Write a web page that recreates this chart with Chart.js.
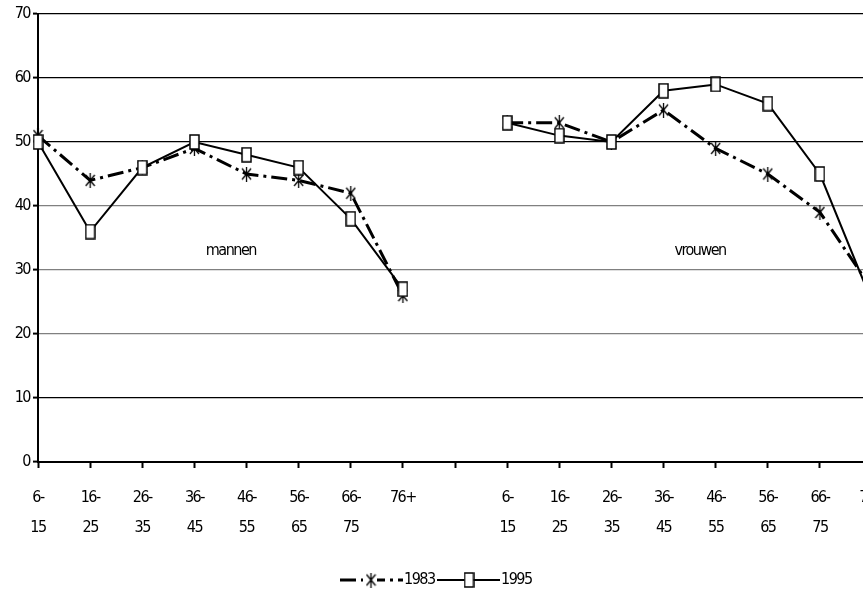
<!DOCTYPE html>
<html>
<head>
<meta charset="utf-8">
<script src="https://cdn.jsdelivr.net/npm/chart.js@4/dist/chart.umd.min.js"></script>
<style>
  html, body { margin: 0; padding: 0; background: #fff; overflow: hidden; }
  #wrap { width: 863px; height: 592px; overflow: hidden; }
</style>
</head>
<body>
<div id="wrap"><canvas id="Chart1" width="900" height="592"></canvas></div>
<script>
// age groups, used once for men and once for women
var ageGroups = [['6-', '15'], ['16-', '25'], ['26-', '35'], ['36-', '45'],
                 ['46-', '55'], ['56-', '65'], ['66-', '75'], ['76+']];
var groupNames = ['mannen', 'vrouwen'];

var men1983   = [51, 44, 46, 49, 45, 44, 42, 26];
var men1995   = [50, 36, 46, 50, 48, 46, 38, 27];
var women1983 = [53, 53, 50, 55, 49, 45, 39, 27];
var women1995 = [53, 51, 50, 58, 59, 56, 45, 25];

var yTicks = [0, 10, 20, 30, 40, 50, 60, 70];

var labels = ageGroups.concat([''], ageGroups);
var data1983 = men1983.concat([null], women1983);
var data1995 = men1995.concat([null], women1995);

var FONT = "'DejaVu Sans Condensed', 'Liberation Sans', sans-serif";
var SPACING = '-1.5px';

function makeSquare() {
  var c = document.createElement('canvas');
  c.width = 11; c.height = 16;
  var g = c.getContext('2d');
  g.fillStyle = '#fff';
  g.fillRect(1, 1, 9, 14);
  g.strokeStyle = '#000';
  g.lineWidth = 1.5;
  g.strokeRect(1, 1, 9, 14);
  return c;
}

function makeStar() {
  var c = document.createElement('canvas');
  c.width = 11; c.height = 15;
  var g = c.getContext('2d');
  g.strokeStyle = '#000';
  g.lineWidth = 1.3;
  g.beginPath();
  g.moveTo(1, 2); g.lineTo(10, 13);
  g.moveTo(10, 2); g.lineTo(1, 13);
  g.moveTo(5.5, 0); g.lineTo(5.5, 15);
  g.stroke();
  return c;
}

var squareImg = makeSquare();
var starImg = makeStar();
var dash1983 = [16, 5, 3, 5];

// tighter text, group names inside the plot, legend with line and marker
var extras = {
  id: 'extras',
  beforeUpdate: function(chart) { chart.ctx.letterSpacing = SPACING; },
  beforeDraw: function(chart) { chart.ctx.letterSpacing = SPACING; },
  afterDatasetsDraw: function(chart) {
    var ctx = chart.ctx;
    var xs = chart.scales.x, ys = chart.scales.y;
    ctx.save();
    ctx.letterSpacing = SPACING;
    ctx.font = '16px ' + FONT;
    ctx.fillStyle = '#000';
    ctx.textAlign = 'center';
    ctx.textBaseline = 'middle';
    ctx.fillText(groupNames[0], xs.getPixelForValue(3.7), ys.getPixelForValue(33));
    ctx.fillText(groupNames[1], xs.getPixelForValue(12.7), ys.getPixelForValue(33));

    // legend
    var y = 580;
    ctx.textAlign = 'left';
    ctx.strokeStyle = '#000';
    ctx.lineWidth = 3;
    ctx.setLineDash(dash1983);
    ctx.beginPath(); ctx.moveTo(340, y); ctx.lineTo(403, y); ctx.stroke();
    ctx.setLineDash([]);
    ctx.fillStyle = '#fff';
    ctx.fillRect(363, y - 8, 14, 16);
    ctx.drawImage(starImg, 371 - 5.5, y - 7.5);
    ctx.fillStyle = '#000';
    ctx.fillText(chart.data.datasets[0].label, 404, y);

    ctx.lineWidth = 2;
    ctx.beginPath(); ctx.moveTo(437, y); ctx.lineTo(500, y); ctx.stroke();
    ctx.drawImage(squareImg, 469 - 5.5, y - 8);
    ctx.fillText(chart.data.datasets[1].label, 501, y);
    ctx.restore();
  }
};

var ctx1 = document.getElementById('Chart1').getContext('2d');

var Chart1 = new Chart(ctx1, {
  type: 'line',
  data: {
    labels: labels,
    datasets: [{
      label: '1983',
      data: data1983,
      borderColor: '#000',
      borderWidth: 3,
      borderDash: dash1983,
      pointStyle: starImg,
      pointRadius: 6,
      tension: 0,
      spanGaps: false,
      order: 1
    }, {
      label: '1995',
      data: data1995,
      borderColor: '#000',
      borderWidth: 2,
      pointStyle: squareImg,
      pointRadius: 6,
      tension: 0,
      spanGaps: false,
      order: 0
    }]
  },
  options: {
    responsive: false,
    animation: false,
    devicePixelRatio: 1,
    layout: { padding: { top: 14, right: 26, left: 0, bottom: 0 } },
    plugins: { legend: { display: false }, tooltip: { enabled: false } },
    scales: {
      x: {
        offset: false,
        grid: { drawOnChartArea: false, drawTicks: true, tickLength: 6, tickColor: '#000', tickWidth: 2 },
        border: { color: '#000', width: 2 },
        ticks: {
          autoSkip: false, maxRotation: 0, minRotation: 0,
          color: '#000', padding: 15,
          font: { family: FONT, size: 16, lineHeight: 1.875 }
        },
        afterFit: function(s) { s.height = 130; }
      },
      y: {
        min: yTicks[0], max: yTicks[yTicks.length - 1],
        afterBuildTicks: function(s) { s.ticks = yTicks.map(function(v) { return { value: v }; }); },
        grid: {
          color: function(c) { return (c.tick && c.tick.value >= 20 && c.tick.value <= 40) ? '#808080' : '#000'; },
          lineWidth: 1.2,
          tickLength: 5, tickColor: '#000', tickWidth: 2
        },
        border: { color: '#000', width: 2 },
        ticks: { color: '#000', padding: 3, font: { family: FONT, size: 16 } },
        afterFit: function(s) { s.width = 38; }
      }
    }
  },
  plugins: [extras]
});
</script>
</body>
</html>
